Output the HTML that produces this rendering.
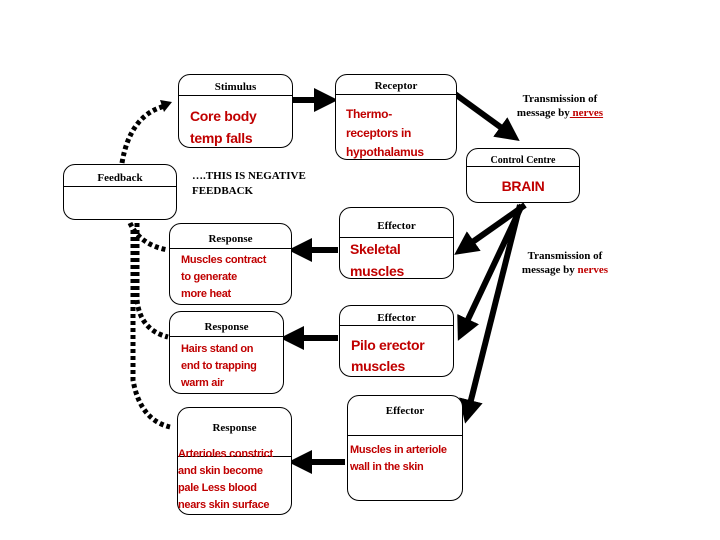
<!DOCTYPE html>
<html><head><style>
body{margin:0;width:720px;height:540px;background:#fff;position:relative;overflow:hidden;font-family:"Liberation Serif",serif}
.b{position:absolute;border:1.5px solid #000;border-radius:12px;box-sizing:border-box;background:#fff}
.h{position:absolute;left:0;right:0;border-bottom:1.5px solid #000;text-align:center;font-size:11px;font-weight:bold;font-family:"Liberation Serif",serif}
.t{position:absolute;color:#c00000;font-family:"Liberation Sans",sans-serif;font-weight:bold;white-space:nowrap;letter-spacing:-0.3px}
.l{position:absolute;font-size:11px;font-weight:bold;text-align:center;white-space:nowrap}
</style></head><body>
<svg width="720" height="540" style="position:absolute;left:0;top:0">
<defs><marker id="a" markerWidth="4" markerHeight="4" refX="2" refY="2" orient="auto"><path d="M0,0L4,2L0,4z"/></marker></defs>
<g stroke="#000" stroke-width="6" fill="none" marker-end="url(#a)">
<line x1="293" y1="100" x2="326" y2="100"/>
<line x1="455" y1="94" x2="510" y2="134"/>
<line x1="525" y1="205" x2="464" y2="248"/>
<line x1="522" y1="205" x2="463" y2="330"/>
<line x1="520" y1="205" x2="468" y2="412"/>
<line x1="338" y1="250" x2="300" y2="250"/>
<line x1="338" y1="338" x2="292" y2="338"/>
<line x1="345" y1="462" x2="300" y2="462"/>
</g>
<g stroke="#000" stroke-width="5" fill="none" stroke-dasharray="4,3">
<path d="M122,163 Q130,115 165,106"/>
<path d="M130,223 Q140,245 168,250"/>
<path d="M137,223 L137,300 Q140,330 168,337"/>
<path d="M133,230 L133,380 Q140,420 170,427"/>
</g>
<path d="M160,100 L172,102 L164,112z" fill="#000"/>
</svg>
<div class="b" style="left:178px;top:74px;width:115px;height:74px"><div class="h" style="top:0;height:20px;line-height:24px">Stimulus</div><div class="t" style="left:11px;top:30px;font-size:14px;line-height:22px">Core body<br>temp falls</div></div>
<div class="b" style="left:335px;top:74px;width:122px;height:86px"><div class="h" style="top:0;height:19px;line-height:22px">Receptor</div><div class="t" style="left:10px;top:30px;font-size:12px;line-height:19px">Thermo-<br>receptors in<br>hypothalamus</div></div>
<div class="b" style="left:63px;top:164px;width:114px;height:56px"><div class="h" style="top:0;height:21px;line-height:26px">Feedback</div></div>
<div class="b" style="left:466px;top:148px;width:114px;height:55px"><div class="h" style="top:0;height:17px;line-height:24px;font-size:10px">Control Centre</div><div class="t" style="left:0;right:0;text-align:center;top:29px;font-size:14px">BRAIN</div></div>
<div class="b" style="left:339px;top:207px;width:115px;height:72px"><div class="h" style="top:0;height:29px;line-height:36px">Effector</div><div class="t" style="left:10px;top:30px;font-size:14px;line-height:22px">Skeletal<br>muscles</div></div>
<div class="b" style="left:169px;top:223px;width:123px;height:82px"><div class="h" style="top:0;height:24px;line-height:30px">Response</div><div class="t" style="left:11px;top:28px;font-size:11px;line-height:17px">Muscles contract<br>to generate<br>more heat</div></div>
<div class="b" style="left:169px;top:311px;width:115px;height:83px"><div class="h" style="top:0;height:24px;line-height:30px">Response</div><div class="t" style="left:11px;top:29px;font-size:11px;line-height:17px">Hairs stand on<br>end to trapping<br>warm air</div></div>
<div class="b" style="left:339px;top:305px;width:115px;height:72px"><div class="h" style="top:0;height:19px;line-height:24px">Effector</div><div class="t" style="left:11px;top:29px;font-size:14px;line-height:21px">Pilo erector<br>muscles</div></div>
<div class="b" style="left:177px;top:407px;width:115px;height:108px"><div class="h" style="top:0;height:48px;line-height:40px;border:0">Response</div><div style="position:absolute;left:0;right:0;top:48px;border-top:1.5px solid #000"></div><div class="t" style="left:0;top:38px;font-size:11px;line-height:17px">Arterioles constrict<br>and skin become<br>pale Less blood<br>nears skin surface</div></div>
<div class="b" style="left:347px;top:395px;width:116px;height:106px"><div class="h" style="top:0;height:39px;line-height:30px">Effector</div><div class="t" style="left:2px;top:46px;font-size:11px;line-height:17px">Muscles in arteriole<br>wall in the skin</div></div>
<div class="l" style="left:192px;top:169px;text-align:left;line-height:15px">….THIS IS NEGATIVE<br>FEEDBACK</div>
<div class="l" style="left:500px;top:92px;width:120px;line-height:14px">Transmission of<br>message by<span style="color:#c00000;text-decoration:underline"> nerves </span></div>
<div class="l" style="left:505px;top:249px;width:120px;line-height:14px">Transmission of<br>message by <span style="color:#c00000">nerves</span></div>
</body></html>
